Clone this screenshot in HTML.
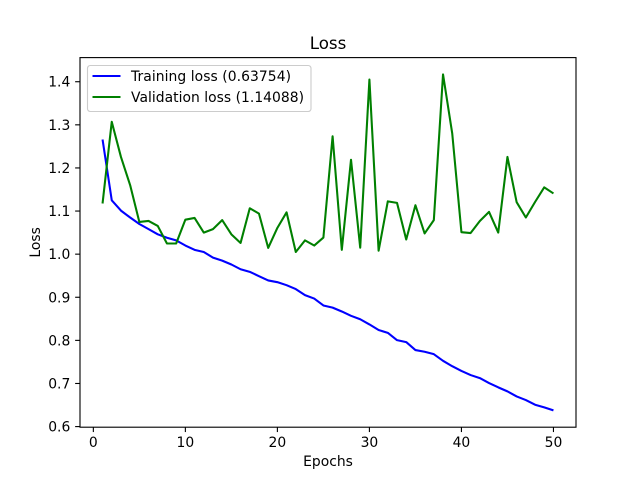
<!DOCTYPE html>
<html>
<head>
<meta charset="utf-8">
<title>Loss</title>
<style>
html,body{margin:0;padding:0;background:#fff;width:640px;height:480px;overflow:hidden}
svg{display:block}
text{font-family:"DejaVu Sans","Liberation Sans",sans-serif;fill:#000}
</style>
</head>
<body>
<svg id="chart" xmlns="http://www.w3.org/2000/svg" width="640" height="480" viewBox="0 0 640 480">
<rect x="0" y="0" width="640" height="480" fill="#fff"/>
<rect x="80" y="57.6" width="496" height="369.6" fill="#fff"/>
<g id="series"></g>
<g id="axes"></g>
<rect x="80" y="57.6" width="496" height="369.6" fill="none" stroke="#000" stroke-width="1.11"/>
<text x="328" y="49" font-size="16.67" text-anchor="middle">Loss</text>
<text x="328" y="466" font-size="13.89" text-anchor="middle">Epochs</text>
<text x="0" y="0" font-size="13.89" text-anchor="middle" transform="translate(40,242.4) rotate(-90)">Loss</text>
<g>
<rect x="87.5" y="65.5" width="223.5" height="46" rx="2.8" ry="2.8" fill="#fff" fill-opacity="0.8" stroke="#ccc" stroke-width="1.11"/>
<line x1="92.5" y1="76" x2="120.5" y2="76" stroke="#0000ff" stroke-width="2.08"/>
<text x="131" y="81" font-size="13.89" textLength="160" lengthAdjust="spacing">Training loss (0.63754)</text>
<line x1="92.5" y1="97" x2="120.5" y2="97" stroke="#008000" stroke-width="2.08"/>
<text x="131" y="102" font-size="13.89" textLength="173" lengthAdjust="spacing">Validation loss (1.14088)</text>
</g>
</svg>
<script>
const epochs = [1,2,3,4,5,6,7,8,9,10,11,12,13,14,15,16,17,18,19,20,21,22,23,24,25,26,27,28,29,30,31,32,33,34,35,36,37,38,39,40,41,42,43,44,45,46,47,48,49,50];
const trainingLoss = [1.266,1.125,1.101,1.085,1.070,1.058,1.046,1.038,1.032,1.020,1.010,1.005,0.992,0.985,0.976,0.965,0.959,0.949,0.939,0.935,0.928,0.919,0.905,0.897,0.881,0.876,0.867,0.857,0.849,0.837,0.824,0.8175,0.8005,0.796,0.7775,0.7735,0.768,0.7526,0.740,0.729,0.7195,0.7125,0.701,0.691,0.6817,0.670,0.6615,0.6507,0.6446,0.63754];
const validationLoss = [1.1174,1.307,1.2255,1.16,1.0747,1.077,1.0655,1.0247,1.0247,1.080,1.084,1.050,1.058,1.079,1.046,1.026,1.1065,1.094,1.0145,1.061,1.097,1.005,1.032,1.020,1.0385,1.2733,1.01,1.219,1.015,1.405,1.008,1.1225,1.119,1.034,1.1135,1.048,1.079,1.417,1.28,1.051,1.049,1.077,1.098,1.050,1.2255,1.1205,1.085,1.121,1.155,1.14088];
const xTicks = [0,10,20,30,40,50];
const yTicks = [0.6,0.7,0.8,0.9,1.0,1.1,1.2,1.3,1.4];

const NS = 'http://www.w3.org/2000/svg';
const plot = {left:80, right:576, top:57.6, bottom:427.2};
const allY = trainingLoss.concat(validationLoss);
const xMinData = Math.min.apply(null, epochs), xMaxData = Math.max.apply(null, epochs);
const yMinData = Math.min.apply(null, allY), yMaxData = Math.max.apply(null, allY);
const xPad = (xMaxData - xMinData) * 0.05, yPad = (yMaxData - yMinData) * 0.05;
function xScale(v){ return plot.left + (v - (xMinData - xPad)) / (xMaxData - xMinData + 2 * xPad) * (plot.right - plot.left); }
function yScale(v){ return plot.bottom - (v - (yMinData - yPad)) / (yMaxData - yMinData + 2 * yPad) * (plot.bottom - plot.top); }

const seriesGroup = document.getElementById('series');
const axesGroup = document.getElementById('axes');

function drawLine(values, color, name){
  const el = document.createElementNS(NS, 'polyline');
  
  
  el.setAttribute('points', values.map(function(v, i){ return xScale(epochs[i]).toFixed(2) + ',' + yScale(v).toFixed(2); }).join(' '));
  el.setAttribute('fill', 'none');
  el.setAttribute('stroke', color);
  el.setAttribute('stroke-width', '2.08');
  el.setAttribute('stroke-linejoin', 'round');
  seriesGroup.appendChild(el);
}
drawLine(trainingLoss, '#0000ff', 'training-loss-line');
drawLine(validationLoss, '#008000', 'validation-loss-line');

xTicks.forEach(function(t){
  const x = xScale(t);
  const mark = document.createElementNS(NS, 'line');
  
  
  mark.setAttribute('x1', x); mark.setAttribute('x2', x);
  mark.setAttribute('y1', plot.bottom); mark.setAttribute('y2', plot.bottom + 4.86);
  mark.setAttribute('stroke', '#000'); mark.setAttribute('stroke-width', '1.11');
  axesGroup.appendChild(mark);
  const label = document.createElementNS(NS, 'text');
  
  
  label.setAttribute('x', x); label.setAttribute('y', 447);
  label.setAttribute('font-size', '13.89');
  label.setAttribute('text-anchor', 'middle');
  label.textContent = String(t);
  axesGroup.appendChild(label);
});

yTicks.forEach(function(t){
  const y = yScale(t);
  const mark = document.createElementNS(NS, 'line');
  
  
  mark.setAttribute('x1', plot.left - 4.86); mark.setAttribute('x2', plot.left);
  mark.setAttribute('y1', y); mark.setAttribute('y2', y);
  mark.setAttribute('stroke', '#000'); mark.setAttribute('stroke-width', '1.11');
  axesGroup.appendChild(mark);
  const label = document.createElementNS(NS, 'text');
  
  
  label.setAttribute('x', 70.3); label.setAttribute('y', y + 5);
  label.setAttribute('font-size', '13.89');
  label.setAttribute('text-anchor', 'end');
  label.textContent = t.toFixed(1);
  axesGroup.appendChild(label);
});
</script>
</body>
</html>
